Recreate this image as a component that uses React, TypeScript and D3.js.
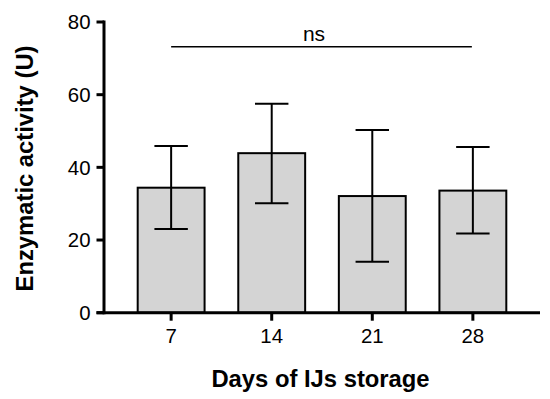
import React from "react";
import * as d3 from "d3";

const categories = ["7", "14", "21", "28"];
const means = [34.4, 43.9, 32.1, 33.6];
const errUpper = [45.9, 57.5, 50.3, 45.6];
const errLower = [23.0, 30.1, 14.0, 21.8];
const yTicks = [0, 20, 40, 60, 80];
const sigLevel = 73.2;
const sigLabel = "ns";

export default function App() {
  const W = 550, H = 399;
  const x = d3.scaleBand<string>().domain(categories).range([104, 540]).paddingInner(0.335).paddingOuter(0.335);
  const y = d3.scaleLinear().domain([0, 80]).range([312.7, 22]);
  const bw = x.bandwidth();
  const cap = bw / 2;
  const font = "Arial, 'Liberation Sans', Helvetica, sans-serif";
  const first = x(categories[0])! + bw / 2;
  const last = x(categories[categories.length - 1])! + bw / 2;
  return (
    <svg width={W} height={H} style={{ position: "fixed", left: 0, top: 0, background: "#fff" }} fontFamily={font}>
      <rect x={0} y={0} width={W} height={H} fill="#fff" />
      {categories.map((c, i) => {
        const cx = x(c)! + bw / 2;
        return (
          <g key={c}>
            <rect x={x(c)!} y={y(means[i])} width={bw} height={y(0) - y(means[i])} fill="#d4d4d4" stroke="#000" strokeWidth={2} />
            <line x1={cx} x2={cx} y1={y(errLower[i])} y2={y(errUpper[i])} stroke="#000" strokeWidth={2} />
            <line x1={cx - cap / 2} x2={cx + cap / 2} y1={y(errUpper[i])} y2={y(errUpper[i])} stroke="#000" strokeWidth={2} />
            <line x1={cx - cap / 2} x2={cx + cap / 2} y1={y(errLower[i])} y2={y(errLower[i])} stroke="#000" strokeWidth={2} />
          </g>
        );
      })}
      {/* y axis */}
      <line x1={104} x2={104} y1={y(80) - 1.5} y2={y(0) + 1.5} stroke="#000" strokeWidth={3} />
      {yTicks.map((t) => (
        <g key={t}>
          <line x1={96.5} x2={104} y1={y(t)} y2={y(t)} stroke="#000" strokeWidth={3} />
          <text x={90.5} y={y(t)} dy="0.36em" textAnchor="end" fontSize={20.4} fill="#000">{t}</text>
        </g>
      ))}
      {/* x axis */}
      <line x1={96.5} x2={540} y1={y(0)} y2={y(0)} stroke="#000" strokeWidth={3} />
      {categories.map((c) => {
        const cx = x(c)! + bw / 2;
        return (
          <g key={c}>
            <line x1={cx} x2={cx} y1={y(0)} y2={y(0) + 8} stroke="#000" strokeWidth={3} />
            <text x={cx} y={343.3} textAnchor="middle" fontSize={20.4} fill="#000">{c}</text>
          </g>
        );
      })}
      {/* significance */}
      <line x1={first} x2={last - 1} y1={y(sigLevel)} y2={y(sigLevel)} stroke="#000" strokeWidth={1.6} />
      <text x={314} y={41} textAnchor="middle" fontSize={21} fill="#000">{sigLabel}</text>
      {/* axis titles */}
      <text x={320.5} y={386.5} textAnchor="middle" fontSize={23.8} fontWeight="bold" fill="#000">Days of IJs storage</text>
      <text transform="translate(33,168.5) rotate(-90)" textAnchor="middle" fontSize={23.8} fontWeight="bold" fill="#000">Enzymatic activity (U)</text>
    </svg>
  );
}
